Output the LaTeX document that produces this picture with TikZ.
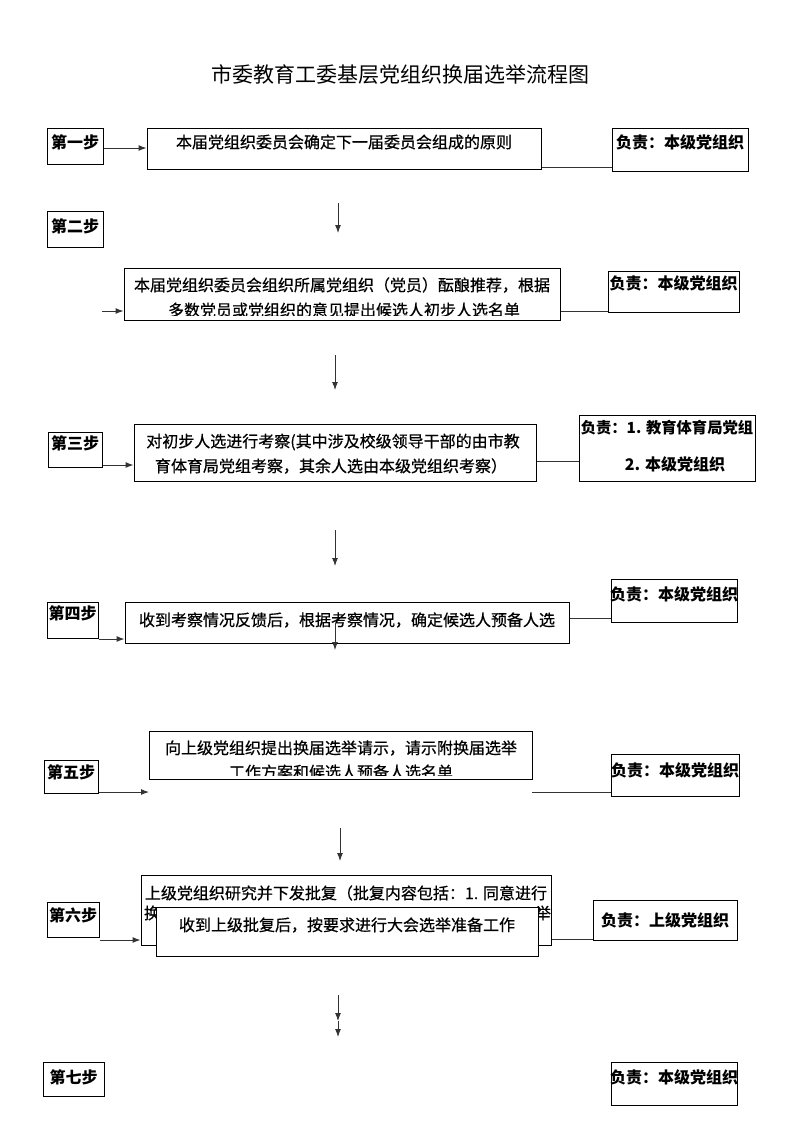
\documentclass[tikz,border=0pt]{standalone}
\usepackage{fontspec}
\newfontfamily\cjk{Noto Sans CJK SC}
\newfontfamily\cjkm[FakeBold=0.6]{Noto Sans CJK SC}
\usetikzlibrary{arrows.meta}
\begin{document}
\begin{tikzpicture}[x=1pt,y=-1pt,
  box/.style={draw=black,line width=1pt,fill=white,inner sep=0pt},
  txt/.style={inner sep=0pt,font=\cjkm\fontsize{16}{19}\selectfont},
  btxt/.style={inner sep=0pt,font=\cjk\bfseries\fontsize{16}{19}\selectfont},
  conn/.style={draw=black!80,line width=1pt},
  arr/.style={conn,-{Latex[length=8pt,width=6pt]}},
]
\fill[white] (0,0) rectangle (800,1130);
\useasboundingbox (0,0) rectangle (800,1130);

\node[inner sep=0pt,font=\cjk\fontsize{21}{25}\selectfont] (title) at (400,75) {市委教育工委基层党组织换届选举流程图};

% ---------- step 1
\node[box,minimum width=56pt,minimum height=36pt] (s1) at (75,146) {};
\node[btxt] (s1t) at (75,142) {第一步};
\node[box,minimum width=394pt,minimum height=41pt] (b1) at (344,148.5) {};
\node[txt] (b1t) at (344,142) {本届党组织委员会确定下一届委员会组成的原则};
\node[box,minimum width=136pt,minimum height=43pt] (r1) at (680,149.5) {};
\node[btxt] (r1t) at (680,142) {负责：本级党组织};
\draw[arr] (s1.east |- 0,148) -- (b1.west |- 0,148);
\draw[conn] (b1.east |- 0,167) -- (r1.west |- 0,167);
\coordinate (d1a) at (338,203);
\coordinate (d1b) at (338,233);
\draw[arr] (d1a) -- (d1b);

% ---------- step 2
\node[box,minimum width=56pt,minimum height=36pt] (s2) at (75,229) {};
\node[btxt] (s2t) at (75,226) {第二步};
\node[box,minimum width=436pt,minimum height=52pt] (b2) at (342,294) {};
\node[txt] (b2t1) at (342,285) {本届党组织委员会组织所属党组织（党员）酝酿推荐，根据};
\begin{scope}
\clip (124,268) rectangle (560,315);
\node[txt] (b2t2) at (344,310) {多数党员或党组织的意见提出候选人初步人选名单};
\end{scope}
\node[box,minimum width=131pt,minimum height=41pt] (r2) at (673.5,291.5) {};
\node[btxt] (r2t) at (673.5,283) {负责：本级党组织};
\coordinate (c2) at (102,311);
\draw[arr] (c2) -- (b2.west |- c2);
\draw[conn] (b2.east |- 0,311) -- (r2.west |- 0,311);
\coordinate (d2a) at (335,355);
\coordinate (d2b) at (335,390);
\draw[arr] (d2a) -- (d2b);

% ---------- step 3
\node[box,minimum width=54pt,minimum height=35pt] (s3) at (75,449.5) {};
\node[btxt] (s3t) at (75,443) {第三步};
\node[box,minimum width=402pt,minimum height=57pt] (b3) at (335,452.5) {};
\node[txt] (b3t1) at (333,442) {对初步人选进行考察(其中涉及校级领导干部的由市教};
\node[txt] (b3t2) at (331,466) {育体育局党组考察，其余人选由本级党组织考察）};
\node[box,minimum width=176pt,minimum height=66pt] (r3) at (667,448) {};
\node[btxt,font=\cjk\bfseries\fontsize{15.3}{18}\selectfont] (r3t1) at (667,428) {负责：1. 教育体育局党组};
\node[btxt] (r3t2) at (675,464) {2. 本级党组织};
\draw[arr] (s3.east |- 0,465) -- (b3.west |- 0,465);
\draw[conn] (b3.east |- 0,461) -- (r3.west |- 0,461);
\coordinate (d3a) at (335,530);
\coordinate (d3b) at (335,566);
\draw[arr] (d3a) -- (d3b);

% ---------- step 4
\node[box,minimum width=51pt,minimum height=36pt] (s4) at (72.5,620) {};
\node[btxt] (s4t) at (72.5,613) {第四步};
\node[box,minimum width=444pt,minimum height=41pt] (b4) at (347,622.5) {};
\node[txt] (b4t) at (347,620) {收到考察情况反馈后，根据考察情况，确定候选人预备人选};
\node[box,minimum width=126pt,minimum height=43pt] (r4) at (674,600.5) {};
\node[btxt] (r4t) at (674,594) {负责：本级党组织};
\draw[arr] (s4.east |- 0,639) -- (b4.west |- 0,639);
\draw[conn] (b4.east |- 0,618) -- (r4.west |- 0,618);
\coordinate (d4a) at (335,623);
\coordinate (d4b) at (335,650);
\draw[arr] (d4a) -- (d4b);

% ---------- step 5
\node[box,minimum width=383pt,minimum height=48pt] (b5) at (340.5,755) {};
\node[txt] (b5t1) at (341,748) {向上级党组织提出换届选举请示，请示附换届选举};
\begin{scope}
\clip (149,731) rectangle (532,775);
\node[txt] (b5t2) at (341,772) {工作方案和候选人预备人选名单};
\end{scope}
\node[box,minimum width=54pt,minimum height=33pt] (s5) at (71,776.5) {};
\node[btxt] (s5t) at (71,772) {第五步};
\node[box,minimum width=128pt,minimum height=42pt] (r5) at (675,775) {};
\node[btxt] (r5t) at (675,770) {负责：本级党组织};
\coordinate (c5a) at (149,792);
\coordinate (c5b) at (532,792);
\draw[arr] (s5.east |- c5a) -- (c5a);
\draw[conn] (c5b) -- (r5.west |- c5b);
\coordinate (d5a) at (340,828);
\coordinate (d5b) at (340,861);
\draw[arr] (d5a) -- (d5b);

% ---------- step 6
\node[box,minimum width=410pt,minimum height=70pt] (b6a) at (346,910) {};
\node[txt] (b6at1) at (346,893) {上级党组织研究并下发批复（批复内容包括：1. 同意进行};
\node[txt] (b6at2) at (152,913) {换};
\node[txt] (b6at3) at (543,913) {举};
\node[box,minimum width=382pt,minimum height=49pt] (b6b) at (347,931.5) {};
\node[txt] (b6bt) at (347,925) {收到上级批复后，按要求进行大会选举准备工作};
\node[box,minimum width=52pt,minimum height=35pt] (s6) at (73,919.5) {};
\node[btxt] (s6t) at (73,915) {第六步};
\node[box,minimum width=144pt,minimum height=40pt] (r6) at (665,920) {};
\node[btxt] (r6t) at (665,920) {负责：上级党组织};
\draw[arr] (s6.east |- 0,940) -- (b6a.west |- 0,940);
\draw[conn] (b6a.east |- 0,939) -- (r6.west |- 0,939);
\coordinate (d6a) at (338,995);
\coordinate (d6m) at (338,1021);
\coordinate (d6b) at (338,1037);
\draw[arr] (d6a) -- (d6m);
\draw[arr] (d6m) -- (d6b);

% ---------- step 7
\node[box,minimum width=61pt,minimum height=34pt] (s7) at (73.5,1079) {};
\node[btxt] (s7t) at (73.5,1077) {第七步};
\node[box,minimum width=126pt,minimum height=43pt] (r7) at (674,1083.5) {};
\node[btxt] (r7t) at (674,1077) {负责：本级党组织};
\end{tikzpicture}
\end{document}
